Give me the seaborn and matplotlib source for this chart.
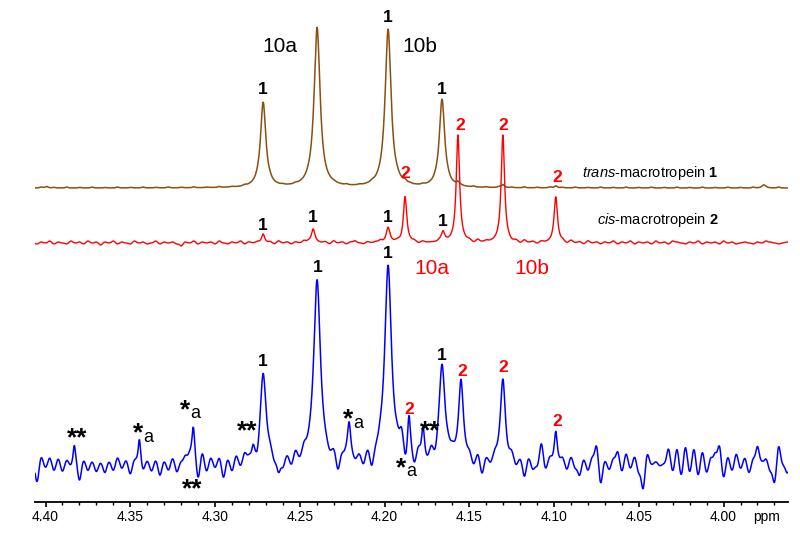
import numpy as np
import pandas as pd
import matplotlib
matplotlib.use("Agg")
import matplotlib.pyplot as plt
import seaborn as sns
from matplotlib.ticker import MultipleLocator, FormatStrFormatter

# ------------------------------------------------------------------ data
# Peak tables: chemical shift (ppm), height (a.u.), Lorentzian half width (ppm)
trans_shift = [4.2716, 4.2398, 4.1979, 4.1661, 4.1879, 4.1567, 4.1302, 4.0990, 3.9764, 4.3994]
trans_height = [85, 160, 158, 88, 2, 3, 3, 2, 3, 1.5]
trans_width = [0.0019, 0.0021, 0.0021, 0.0019, 0.001, 0.001, 0.001, 0.001, 0.0012, 0.001]

cis_shift = [4.2716, 4.2421, 4.1979, 4.1879, 4.1655, 4.1567, 4.1302, 4.0990]
cis_height = [9, 14, 15, 46, 10, 108, 108, 46]
cis_width = [0.0011, 0.0013, 0.0013, 0.0012, 0.0012, 0.0012, 0.0012, 0.0012]

mix_shift = [4.2716, 4.2398, 4.1979, 4.1661, 4.1549, 4.1302, 4.0990, 4.1856, 4.1773,
             4.3830, 4.3446, 4.3128, 4.2775, 4.2209]
mix_height = [90, 184, 198, 97, 81, 85, 33, 42, 32, 20, 26, 37, 10, 37]
mix_width = [0.0021, 0.0024, 0.0024, 0.0021, 0.0017, 0.0018, 0.0011, 0.0011, 0.0010,
             0.0009, 0.0009, 0.0011, 0.0009, 0.0012]

# baseline noise (a.u.), one value every 0.0025 ppm from 4.405 ppm
noise_start = 4.405
noise_step = 0.0025
mix_noise = [-17, 8, -3, 7, -6, 6, -7, 4, -3, 0,
             -17, 4, -6, 3, -7, 2, -8, 3, -6, 7,
             -4, 4, -10, 3, 0, -8, 3, -7, 4, -11,
             3, -6, 6, -8, 2, 7, 6, 0, -18, 10,
             -8, 6, -4, 6, -14, 4, -8, 7, -4, 8,
             3, 0, -11, 0, 0, 3, -6, -14, -8, 4,
             -6, 7, -3, 6, 0, 0, 0, 0, 0, -4,
             4, -14, 3, 3, 0, -3, 4, -7, 6, -14,
             0, 4, 0, 0, 0, 6, 17, -12, 0, -10,
             7, 0, -4, 6, -8, 0, 0, 3, 4, 0,
             0, 0, 4, -6, 6, -13, 3, -4, 4, 0,
             0, -3, 5, -5, 3, -14, 5, -6, -3, 20,
             -6, 5, 0, 0, 5, -6, 7, -4, -11, 5,
             -6, 7, 19, -19, 4, -5, 6, 13, -7, 11,
             -4, 8, -8, -24, 11, 0, 3, -1, 1, 16,
             -7, 16, -11, 18, -8, 16, -11, 13, -8, 7,
             11, 19, -13, 8, -6, 11, -4, 7, -8, 6,
             18, 3, 6, -6, -18, 19, 0, -8]
cis_noise = [-1, 1, 0, 2, -1, 1, 0, -1, 2, 0, 1, -1, 2, 0, 1, -2, 1, 0, 2, -1,
             1, 0, -1, 2, 0, 1, -1, 0, 2, -1, 1, 0, 1, -1, -3, 1, 0, 2, -1, 1,
             0, 1, -1, 2, 0, -1, 1, 0, 2, -1, 1, 0, 1, 0, 0, 1, -1, 2, 0, 1,
             -1, 1, 0, 2, 1, 0, 0, 0, 1, -1, 2, 0, 1, -1, 1, 2, 0, -1, 1, 0,
             1, 2, 0, 0, 0, 1, -1, 0, 0, 1, -1, 1, 0, 0, 0, 1, 0, 0, 0, 0,
             0, 0, 1, -1, 2, 0, 1, 0, 0, 0, 0, 0, -1, 1, -1, 2, 0, 1, -1, 1,
             0, 0, 0, 0, 1, -1, 2, 0, 1, -1, 2, 0, 1, -1, 1, 0, 2, -1, 1, 0,
             2, -1, 1, 0, 1, -1, 2, 0, 1, -1, 2, 1, 0, -1, 1, 0, 2, -1, 1, 0,
             1, -1, 2, 0, 1, -1, 0, 1, 0, -1, 1, 0, 2, 1, 0, -1, 0, 1]
trans_noise = [0, 0.8, 0, 0, 0.5, 0, 0, 0.8, 0, 0, 0.5, 0, 0, 0.8, 0, 0, 0.4, 0, 0, 0.8,
               0, 0, 0.5, 0, 0, 0.8, 0, 0, 0.5, 0, 0, 0.8, 0, 0, 0.5, 0, 0, 0.8, 0, 0,
               0.5, 0, 0, 0.8, 0, 0, 0.5, 0, 0, 0.8, 0, 0, 0.5, 0, 0, 0.8, 0, 0, 0.5, 0,
               0, 0.8, 0, 0, 0.5, 0, 0, 0.8, 0, 0, 0.5, 0, 0, 0.8, 0, 0, 0.5, 0, 0, 0.8,
               0, 0, 0.5, 0, 0, 0.8, 0, 0, 0.5, 0, 0, 0.8, 0, 0, 0.5, 0, 0, 0.8, 0, 0,
               0.5, 0, 0, 0.8, 0, 0, 0.5, 0, 0, 0.8, 0, 0, 0.5, 0, 0, 0.8, 0, 0, 0.5, 0,
               0, 0.8, 0, 0, 0.5, 0, 0, 0.8, 0, 0, 0.5, 0, 0, 0.8, 0, 0, 0.5, 0, 0, 0.8,
               0, 0, 0.5, 0, 0, 0.8, 0, 0, 0.5, 0, 0, 0.8, 0, 0, 0.5, 0, 0, 0.8, 0, 0,
               0.5, 0, 0, 0.8, 0, 0, 0.5, 0, 0, 0.8, 0, 0, 0.5, 0, 0, 0.8, 0, 0]

tick_values = [4.40, 4.35, 4.30, 4.25, 4.20, 4.15, 4.10, 4.05, 4.00]

# ------------------------------------------------------------------ build traces
grid = np.linspace(4.4062, 3.9620, 2400)
noise_sigma = {"trans": 0.0008, "cis": 0.0009, "mix": 0.0010}


def spectrum(shifts, heights, widths, noise, sig):
    y = np.zeros_like(grid)
    for c, h, w in zip(shifts, heights, widths):
        y += h / (1.0 + ((grid - c) / w) ** 2)
    pos = noise_start - noise_step * np.arange(len(noise))
    for c, a in zip(pos, noise):
        y += a * np.exp(-0.5 * ((grid - c) / sig) ** 2)
    return y


offsets = {"trans": 314, "cis": 259, "mix": 37}
frames = []
for name, sh, he, wi, no in [("trans", trans_shift, trans_height, trans_width, trans_noise),
                             ("cis", cis_shift, cis_height, cis_width, cis_noise),
                             ("mix", mix_shift, mix_height, mix_width, mix_noise)]:
    frames.append(pd.DataFrame({"ppm": grid,
                                "intensity": spectrum(sh, he, wi, no, noise_sigma[name]) + offsets[name],
                                "trace": name}))
df = pd.concat(frames, ignore_index=True)

# ------------------------------------------------------------------ plot
sns.set_theme(style="white")
plt.rcParams["font.family"] = ["Liberation Sans", "DejaVu Sans"]
plt.rcParams["text.color"] = "black"
plt.rcParams["mathtext.fontset"] = "custom"
plt.rcParams["mathtext.rm"] = "Liberation Sans"
plt.rcParams["mathtext.it"] = "Liberation Sans:italic"
plt.rcParams["mathtext.bf"] = "Liberation Sans:bold"

fig = plt.figure(figsize=(8.0, 5.36), dpi=100)
ax = fig.add_axes([35 / 800, 34 / 536, 753 / 800, 502 / 536])

colors = {"trans": "#8a4f12", "cis": "#ff0000", "mix": "#0000ff"}
widths_lw = {"trans": 1.1, "cis": 1.0, "mix": 1.1}
for name in ["trans", "cis", "mix"]:
    sub = df[df["trace"] == name]
    sns.lineplot(data=sub, x="ppm", y="intensity", ax=ax, color=colors[name],
                 lw=widths_lw[name], estimator=None, sort=False, legend=False)

ax.set_xlim(4.4062, 3.9620)
ax.set_ylim(0, 502)
for s in ["left", "top", "right"]:
    ax.spines[s].set_visible(False)
ax.spines["bottom"].set_color("black")
ax.spines["bottom"].set_linewidth(1.3)
ax.set_yticks([])
ax.set_xticks(tick_values)
ax.xaxis.set_major_formatter(FormatStrFormatter("%.2f"))
ax.xaxis.set_minor_locator(MultipleLocator(0.01))
ax.tick_params(axis="x", which="major", direction="out", length=3.6, width=1.2,
               color="black", labelsize=10, pad=2.5, labelcolor="black", bottom=True)
ax.tick_params(axis="x", which="minor", direction="out", length=2.2, width=1.0,
               color="black", bottom=True)
ax.set_xlabel("")
ax.set_ylabel("")
ax.grid(False)
ax.text(3.9747, -15, "ppm", fontsize=10, color="black", ha="center", va="center",
        clip_on=False)

BLK = "black"
RED = "#ff0000"
num_fs = 12.5


def lab(x, y, s, c=BLK, fs=num_fs, weight="bold"):
    ax.text(x, y, s, color=c, fontsize=fs, fontweight=weight, ha="center", va="center")


# top (trans) trace labels
lab(4.2716, 412, "1")
lab(4.1979, 484, "1")
lab(4.1661, 412, "1")
lab(4.2616, 455, "10a", fs=15, weight="normal")
lab(4.1791, 455, "10b", fs=15, weight="normal")
lab(4.1879, 329, "2", RED)
lab(4.1555, 377, "2", RED)
lab(4.1302, 377, "2", RED)
lab(4.0984, 325, "2", RED)
ax.text(4.0430, 329, r"$\mathit{trans}$-macrotropein $\mathbf{1}$", fontsize=10.5,
        color="black", ha="center", va="center")

# middle (cis) trace labels
lab(4.2716, 277, "1")
lab(4.2421, 284, "1")
lab(4.1979, 284, "1")
lab(4.1655, 280, "1")
ax.text(4.0389, 282, r"$\mathit{cis}$-macrotropein $\mathbf{2}$", fontsize=10.5,
        color="black", ha="center", va="center")
lab(4.1720, 234, "10a", RED, fs=15, weight="normal")
lab(4.1131, 234, "10b", RED, fs=15, weight="normal")

# bottom (mixture) trace labels
lab(4.2716, 140, "1")
lab(4.2392, 235, "1")
lab(4.1979, 249, "1")
lab(4.1661, 147, "1")
lab(4.1856, 92, "2", RED)
lab(4.1543, 130, "2", RED)
lab(4.1302, 134, "2", RED)
lab(4.0984, 80, "2", RED)

star_fs = 19


def stars(x, y, s):
    ax.text(x, y - 6, s, fontsize=star_fs, fontweight="bold", color="black",
            ha="center", va="center")


def star_a(x, y):
    ax.text(x, y - 6, "*", fontsize=star_fs, fontweight="bold", color="black",
            ha="center", va="center")
    ax.text(x - 0.0060, y - 10, "a", fontsize=13, color="black", ha="center", va="center")


stars(4.1732, 77, "**")
stars(4.3811, 70, "**")
stars(4.3134, 19, "**")
stars(4.2810, 77, "**")
star_a(4.3452, 75)
star_a(4.3175, 98)
star_a(4.2215, 89)
star_a(4.1903, 40)

fig.savefig("out.png", dpi=100)
